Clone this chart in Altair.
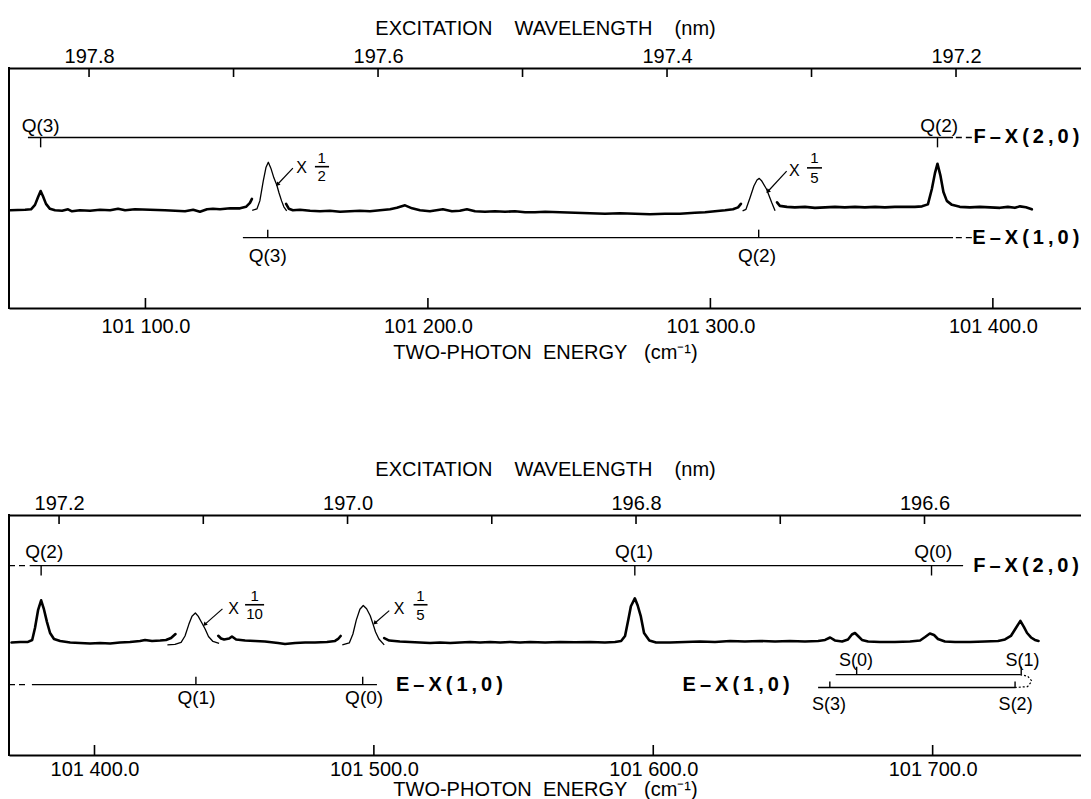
import altair as alt
import pandas as pd

FONT = "Liberation Sans"
W = 1072
H = 238

WL_TITLE = "EXCITATION\u00a0\u00a0\u00a0\u00a0WAVELENGTH\u00a0\u00a0\u00a0\u00a0(nm)"
EN_TITLE = "TWO-PHOTON\u00a0\u00a0ENERGY\u00a0\u00a0\u00a0(cm\u207b\u00b9)"
FX = "F\u2009\u2013\u2009X\u2009(\u20092\u2009,\u20090\u2009)"
EX = "E\u2009\u2013\u2009X\u2009(\u20091\u2009,\u20090\u2009)"

I_DOMAIN = [0, 240]

# ---------------- axes ----------------
TOP_E_DOMAIN = [101051.7, 101431.2]
TOP_L_DOMAIN = [197.8554, 197.1135]
TOP_L_TICKS = [197.8, 197.7, 197.6, 197.5, 197.4, 197.3, 197.2]
TOP_L_LABELS = [197.8, 197.6, 197.4, 197.2]
TOP_E_TICKS = [101100, 101200, 101300, 101400]

BOT_E_DOMAIN = [101369.4, 101753.1]
BOT_L_DOMAIN = [197.2347, 196.4915]
BOT_L_TICKS = [197.2, 197.1, 197.0, 196.9, 196.8, 196.7, 196.6]
BOT_L_LABELS = [197.2, 197.0, 196.8, 196.6]
BOT_E_TICKS = [101400, 101500, 101600, 101700]

# ---------------- top spectrum ----------------
TOP_A_E = [101052.1, 101057.4, 101059.5, 101060.9, 101062.0, 101062.9, 101063.7, 101064.8,
           101066.2, 101068.0, 101070.5, 101072.6, 101074.0, 101076.8, 101080.4, 101083.9,
           101087.5, 101090.3, 101092.8, 101096.3, 101101.6, 101106.9, 101110.5, 101114.0,
           101116.9, 101119.3, 101121.8, 101123.9, 101126.4, 101130.0, 101133.5, 101135.6,
           101137.0, 101137.7]
TOP_A_I = [97.5, 98, 98.5, 103, 111, 117, 112, 104,
           99, 97.5, 97, 98.5, 96.5, 97.5, 97, 98,
           97.5, 99, 97.5, 98.5, 98, 97.5, 97, 96.5,
           98, 96, 98.5, 99, 98.5, 99.5, 99.5, 101,
           105, 109]
TOP_B_E = [101137.8, 101139.5, 101140.5, 101141.7, 101142.7, 101143.5, 101144.4, 101145.5,
           101146.5, 101147.3, 101148.2, 101149.0, 101150.0]
TOP_B_I = [97.5, 99, 107, 127, 141, 146, 140, 130, 123, 115, 107, 101, 97]
TOP_C_E = [101149.8, 101150.8, 101152.2, 101154.7, 101158.3, 101161.8, 101165.3, 101168.9,
           101172.4, 101175.9, 101179.5, 101183.0, 101186.6, 101189.0, 101191.9, 101194.4,
           101197.2, 101200.7, 101205.3, 101208.5, 101211.3, 101213.8, 101216.7, 101220.2,
           101223.7, 101227.3, 101230.8, 101234.4, 101237.9, 101241.5, 101246.8, 101252.1,
           101257.4, 101262.7, 101268.0, 101273.3, 101278.6, 101283.9, 101289.2, 101294.5,
           101298.1, 101301.6, 101305.2, 101308.0, 101309.8, 101310.8]
TOP_C_I = [104, 99, 97.5, 98, 97, 96.5, 97, 96,
           96.5, 97, 96.5, 97.5, 98.5, 100, 102.5, 99.5,
           97.5, 96.5, 98.5, 96.5, 97, 98.5, 96.5, 96,
           96.5, 96, 96.5, 95.5, 95.5, 96, 95.5, 95,
           94.5, 94, 94.5, 94, 93.5, 94, 94, 95,
           95.5, 96.5, 97.5, 98.5, 100.5, 104]
TOP_D_E = [101311.4, 101312.6, 101314.0, 101315.4, 101316.5, 101317.3, 101318.2, 101319.9,
           101321.7, 101322.9]
TOP_D_I = [97, 98.5, 110, 122, 128, 129.7, 127, 118.7, 105.3, 97]
TOP_F_E = [101323.6, 101324.6, 101327.1, 101329.9, 101333.5, 101337.0, 101340.6, 101344.1,
           101347.6, 101351.2, 101354.7, 101358.3, 101361.8, 101365.3, 101368.9, 101372.4,
           101374.9, 101377.0, 101378.4, 101379.5, 101380.4, 101381.4, 101382.5, 101383.7,
           101385.5, 101388.3, 101391.9, 101395.4, 101399.0, 101402.5, 101405.3, 101407.8,
           101409.6, 101411.7, 101413.8]
TOP_F_I = [105.5, 102, 101, 100.5, 101, 100, 100.5, 101,
           100.5, 101, 100.5, 101, 100.5, 101, 101, 101,
           101.5, 103.5, 119, 135, 144.5, 133, 116, 107,
           103, 101, 100.5, 101, 100.5, 100, 101, 100,
           101.5, 100.5, 98.5]

# ---------------- bottom spectrum ----------------
BOT_A_E = [101370.3, 101373.4, 101376.2, 101377.7, 101378.7, 101379.8, 101380.9, 101381.9,
           101383.0, 101384.1, 101385.5, 101387.7, 101391.3, 101394.8, 101398.4, 101402.0,
           101405.6, 101409.1, 101412.7, 101416.3, 101418.1, 101420.6, 101423.5, 101425.6,
           101427.4, 101429.0]
BOT_A_I = [112.5, 113, 113, 115, 127, 145, 155, 146,
           133, 122, 116, 114, 112.5, 112, 111.5, 112,
           111.5, 112.5, 113, 114, 115, 114, 114.5, 115,
           117, 121]
BOT_B_E = [101426.1, 101428.8, 101431.0, 101432.4, 101433.8, 101434.9, 101436.1, 101437.1,
           101438.4, 101439.6, 101440.8, 101442.4, 101444.6]
BOT_B_I = [110, 110.5, 112.5, 119, 131, 139, 142.2, 139, 132.4, 126, 118.5, 113.5, 111.5]
BOT_C_E = [101444.3, 101445.3, 101446.4, 101448.2, 101449.2, 101450.7, 101453.9, 101457.5,
           101461.0, 101465.7, 101468.2, 101471.8, 101475.4, 101478.9, 101483.2, 101486.1,
           101487.2, 101488.1]
BOT_C_I = [119.2, 116.5, 115.5, 116.5, 118.5, 115.5, 114.5, 114,
           113.5, 112, 111, 112, 112.5, 112.5, 113, 114,
           116, 119]
BOT_D_E = [101488.7, 101491.2, 101492.5, 101493.7, 101495.0, 101496.2, 101497.4, 101498.7,
           101499.7, 101500.6, 101501.8, 101503.7]
BOT_D_I = [110, 112, 121, 135, 146, 149.8, 146.5, 139.4, 131, 123, 116, 110]
BOT_F_E = [101503.7, 101505.5, 101509.3, 101512.9, 101516.5, 101520.1, 101523.7, 101527.3,
           101530.8, 101534.4, 101538.0, 101541.6, 101545.2, 101548.7, 101552.3, 101555.9,
           101561.3, 101566.6, 101572.0, 101577.4, 101582.7, 101586.3, 101588.5, 101589.9,
           101591.1, 101592.0, 101593.4, 101594.4, 101595.5, 101596.7, 101598.6, 101601.0,
           101606.0, 101611.4, 101616.7, 101622.1, 101627.5, 101632.8, 101638.2, 101643.6,
           101648.9, 101654.3, 101659.0, 101661.5, 101663.3, 101665.0, 101667.6, 101669.7,
           101671.1, 101672.2, 101673.3, 101674.7, 101676.9, 101681.1, 101686.5, 101691.9,
           101695.5, 101697.3, 101699.0, 101700.5, 101701.9, 101704.4, 101708.0, 101713.4,
           101718.7, 101723.4, 101725.9, 101728.0, 101729.8, 101731.4, 101732.7, 101733.8,
           101735.2, 101736.6, 101737.9]
BOT_F_I = [116.8, 114.4, 113.5, 113, 112.5, 112, 112.5, 112,
           112.5, 113, 112.5, 113, 112.5, 113, 112.5, 113,
           112.5, 113, 112.7, 113, 112.5, 113, 114, 119,
           136, 149, 157, 150, 139.4, 122, 114.5, 112.5,
           112.5, 113, 113.5, 113, 114, 113.5, 114, 113.5,
           114, 113.5, 114, 115, 117.5, 114.5, 113.5, 115.5,
           120.5, 122, 119, 115, 113.5, 113, 113, 113.5,
           114.5, 118, 121.5, 120, 116, 113.5, 113, 113,
           113.5, 114, 115.5, 119, 127, 134.2, 128, 122,
           117.5, 115, 114]

# ---------------- top annotations ----------------
TOP_LEV_E1 = [101058.4, 101134.5]
TOP_LEV_E2 = [101385.9, 101385.9]
TOP_LEV_I = [171, 70]
TOP_DASH_E1 = [101386.9, 101386.9]
TOP_DASH_E2 = [101392.6, 101392.6]
TOP_DASH_I = [171, 70]
TOP_BANDR_T = [FX, EX]
TOP_BANDR_E = [101430.6, 101430.6]
TOP_BANDR_I = [171, 70]
TOP_TICK_E = [101062.9, 101380.4, 101143.3, 101317.1]
TOP_TICK_I1 = [171, 171, 70, 70]
TOP_TICK_I2 = [161, 161, 78, 78]
TOP_LAB_T = ["Q(3)", "Q(2)", "Q(3)", "Q(2)"]
TOP_LAB_E = [101062.9, 101381.0, 101143.3, 101316.5]
TOP_LAB_I = [183, 183, 51, 51]
TOP_X_E = [101155.3, 101329.7]
TOP_X_I = [140, 137]
TOP_FR_T = ["1", "2", "1", "5"]
TOP_FR_E = [101162.4, 101162.4, 101336.8, 101336.8]
TOP_FR_I = [150.5, 132.5, 150.5, 130]
TOP_BAR_E1 = [101160.0, 101334.2]
TOP_BAR_E2 = [101165.0, 101339.5]
TOP_BAR_I = [141.5, 140.3]
TOP_ARR_E1 = [101146.9, 101320.5]
TOP_ARR_I1 = [124, 117]
TOP_ARR_E2 = [101152.2, 101327.0]
TOP_ARR_I2 = [140, 137]

# ---------------- bottom annotations ----------------
BOT_LEV_E1 = [101376.8, 101377.6, 101665.3, 101659.0]
BOT_LEV_E2 = [101710.9, 101501.1, 101731.3, 101729.5]
BOT_LEV_I = [190, 70, 80, 67]
BOT_DASH_E1 = [101369.4, 101369.4]
BOT_DASH_E2 = [101376.2, 101376.2]
BOT_DASH_I = [190, 70]
BOT_BANDR_T = [FX]
BOT_BANDR_E = [101752.4]
BOT_BANDR_I = [190]
BOT_BANDL_T = [EX, EX]
BOT_BANDL_E = [101507.9, 101610.5]
BOT_BANDL_I = [70, 70]
BOT_TICK_E = [101380.9, 101593.4, 101699.6, 101436.3, 101496.0,
              101672.8, 101731.7, 101663.2, 101729.5]
BOT_TICK_I1 = [190, 190, 190, 70, 70, 80, 80, 67, 67]
BOT_TICK_I2 = [180, 180, 180, 78, 78, 88, 88, 73, 73]
BOT_LAB_T = ["Q(2)", "Q(1)", "Q(0)", "Q(1)", "Q(0)"]
BOT_LAB_E = [101382.0, 101593.1, 101700.2, 101436.5, 101496.5]
BOT_LAB_I = [204, 204, 204, 56, 56]
BOT_S_T = ["S(0)", "S(1)", "S(3)", "S(2)"]
BOT_S_E = [101672.6, 101732.2, 101662.9, 101729.7]
BOT_S_I = [94, 94, 49, 49]
BOT_X_E = [101449.8, 101509.0]
BOT_X_I = [146.3, 146.3]
BOT_FR_T = ["1", "10", "1", "5"]
BOT_FR_E = [101457.3, 101457.3, 101516.7, 101516.7]
BOT_FR_I = [159, 141.5, 159, 140]
BOT_BAR_E1 = [101453.9, 101514.2]
BOT_BAR_E2 = [101460.7, 101519.2]
BOT_BAR_I = [150.5, 150.5]
BOT_ARR_E1 = [101439.6, 101500.5]
BOT_ARR_I1 = [131, 132.4]
BOT_ARR_E2 = [101445.8, 101505.5]
BOT_ARR_I2 = [146.3, 144.6]
BOT_LOOP_E = [101731.3, 101734.0, 101735.5, 101734.0, 101729.5]
BOT_LOOP_I = [80, 78.5, 73.5, 68, 67]


def seg_frame(segs):
    rows = []
    for sid, (es, vs) in enumerate(segs):
        for k, (e, v) in enumerate(zip(es, vs)):
            rows.append({"E": e, "I": v, "seg": sid, "k": k})
    return pd.DataFrame(rows)


ONE = pd.DataFrame({"d": [0]})


def panel(p):
    xs = alt.Scale(domain=p["edom"], nice=False, zero=False)
    ls = alt.Scale(domain=p["ldom"], nice=False, zero=False)
    ys = alt.Scale(domain=I_DOMAIN, nice=False, zero=False)

    def xE(f="E"):
        return alt.X(f + ":Q", scale=xs, axis=None)

    def yI(f="I"):
        return alt.Y(f + ":Q", scale=ys, axis=None)

    def text(cols, size, weight="normal", align="center"):
        df = pd.DataFrame({"t": cols[0], "E": cols[1], "I": cols[2]})
        return alt.Chart(df).mark_text(font=FONT, fontSize=size, fontWeight=weight,
                                       align=align, baseline="middle", color="black").encode(
            x=xE(), y=yI(), text="t:N")

    layers = []
    # left frame
    layers.append(alt.Chart(ONE).mark_rule(color="black", strokeWidth=2).encode(
        x=alt.value(0), y=alt.value(-2), y2=alt.value(H + 2)))
    layers.append(alt.Chart(seg_frame(p["thick"])).mark_line(
        color="black", strokeWidth=2.6, strokeJoin="round", strokeCap="round").encode(
        x=xE(), y=yI(), detail="seg:N", order="k:Q"))
    layers.append(alt.Chart(seg_frame(p["thin"])).mark_line(
        color="black", strokeWidth=1.3, strokeJoin="round").encode(
        x=xE(), y=yI(), detail="seg:N", order="k:Q"))
    lev = pd.DataFrame({"E1": p["lev"][0], "E2": p["lev"][1], "I": p["lev"][2]})
    layers.append(alt.Chart(lev).mark_rule(color="black", strokeWidth=1.4).encode(
        x=xE("E1"), x2=alt.X2("E2"), y=yI()))
    dash = pd.DataFrame({"E1": p["dash"][0], "E2": p["dash"][1], "I": p["dash"][2]})
    layers.append(alt.Chart(dash).mark_rule(color="black", strokeWidth=1.4,
                                            strokeDash=[6, 4]).encode(
        x=xE("E1"), x2=alt.X2("E2"), y=yI()))
    ticks = pd.DataFrame({"E": p["ticks"][0], "I1": p["ticks"][1], "I2": p["ticks"][2]})
    layers.append(alt.Chart(ticks).mark_rule(color="black", strokeWidth=1.4).encode(
        x=xE(), y=yI("I1"), y2=alt.Y2("I2")))
    bars = pd.DataFrame({"E1": p["bars"][0], "E2": p["bars"][1], "I": p["bars"][2]})
    layers.append(alt.Chart(bars).mark_rule(color="black", strokeWidth=1.6).encode(
        x=xE("E1"), x2=alt.X2("E2"), y=yI()))
    arr = pd.DataFrame({"E1": p["arr"][0], "I1": p["arr"][1],
                        "E2": p["arr"][2], "I2": p["arr"][3]})
    layers.append(alt.Chart(arr).mark_rule(color="black", strokeWidth=1.2).encode(
        x=xE("E1"), x2=alt.X2("E2"), y=yI("I1"), y2=alt.Y2("I2")))
    layers.append(alt.Chart(arr).mark_point(shape="triangle", filled=True, size=22, angle=225,
                                            color="black", opacity=1).encode(
        x=xE("E1"), y=yI("I1")))
    if "loop" in p:
        loop = pd.DataFrame({"E": p["loop"][0], "I": p["loop"][1],
                             "k": list(range(len(p["loop"][0])))})
        layers.append(alt.Chart(loop).mark_line(color="black", strokeWidth=1.2,
                                                strokeDash=[2, 2]).encode(
            x=xE(), y=yI(), order="k:Q"))
    layers.append(text(p["bandr"], 20, "bold", "right"))
    if "bandl" in p:
        layers.append(text(p["bandl"], 20, "bold", "left"))
    layers.append(text(p["lab"], 19))
    if "slab" in p:
        layers.append(text(p["slab"], 18))
    layers.append(text((["X"] * len(p["x"][0]), p["x"][0], p["x"][1]), 16))
    layers.append(text(p["fr"], 15))
    body = alt.layer(*layers).properties(width=W, height=H)

    # wavelength strip (top frame) with inward ticks
    strip_top = alt.Chart(pd.DataFrame({"L": p["lticks"]})).mark_rule(
        color="black", strokeWidth=1.6).encode(
        x=alt.X("L:Q", scale=ls, axis=alt.Axis(
            orient="top", values=p["llabels"], format=".1f",
            ticks=False, domain=True, grid=False, title=WL_TITLE, labelFlush=False,
            labelPadding=p["tlp"], titlePadding=p["ttp"])),
        y=alt.value(0), y2=alt.value(9)).properties(width=W, height=1)

    # energy strip (bottom frame) with inward ticks
    strip_bot = alt.Chart(pd.DataFrame({"E": p["eticks"]})).mark_rule(
        color="black", strokeWidth=1.6).encode(
        x=alt.X("E:Q", scale=xs, axis=alt.Axis(
            orient="bottom", values=p["eticks"],
            labelExpr="'101 ' + format(datum.value - 101000, '.1f')",
            ticks=False, domain=True, grid=False, title=EN_TITLE, labelFlush=False,
            labelPadding=p["blp"], titlePadding=p["btp"])),
        y=alt.value(1), y2=alt.value(-9)).properties(width=W, height=1)

    return alt.vconcat(strip_top, body, strip_bot, spacing=0,
                       bounds="flush").resolve_scale(x="independent")


top = panel({
    "edom": TOP_E_DOMAIN, "ldom": TOP_L_DOMAIN,
    "eticks": TOP_E_TICKS, "lticks": TOP_L_TICKS, "llabels": TOP_L_LABELS,
    "thick": [(TOP_A_E, TOP_A_I), (TOP_C_E, TOP_C_I), (TOP_F_E, TOP_F_I)],
    "thin": [(TOP_B_E, TOP_B_I), (TOP_D_E, TOP_D_I)],
    "lev": (TOP_LEV_E1, TOP_LEV_E2, TOP_LEV_I),
    "dash": (TOP_DASH_E1, TOP_DASH_E2, TOP_DASH_I),
    "bandr": (TOP_BANDR_T, TOP_BANDR_E, TOP_BANDR_I),
    "ticks": (TOP_TICK_E, TOP_TICK_I1, TOP_TICK_I2),
    "lab": (TOP_LAB_T, TOP_LAB_E, TOP_LAB_I),
    "x": (TOP_X_E, TOP_X_I),
    "fr": (TOP_FR_T, TOP_FR_E, TOP_FR_I),
    "bars": (TOP_BAR_E1, TOP_BAR_E2, TOP_BAR_I),
    "arr": (TOP_ARR_E1, TOP_ARR_I1, TOP_ARR_E2, TOP_ARR_I2),
    "blp": 8, "btp": 6, "tlp": 2, "ttp": 8,
})

bot = panel({
    "edom": BOT_E_DOMAIN, "ldom": BOT_L_DOMAIN,
    "eticks": BOT_E_TICKS, "lticks": BOT_L_TICKS, "llabels": BOT_L_LABELS,
    "thick": [(BOT_A_E, BOT_A_I), (BOT_C_E, BOT_C_I), (BOT_F_E, BOT_F_I)],
    "thin": [(BOT_B_E, BOT_B_I), (BOT_D_E, BOT_D_I)],
    "lev": (BOT_LEV_E1, BOT_LEV_E2, BOT_LEV_I),
    "dash": (BOT_DASH_E1, BOT_DASH_E2, BOT_DASH_I),
    "bandr": (BOT_BANDR_T, BOT_BANDR_E, BOT_BANDR_I),
    "bandl": (BOT_BANDL_T, BOT_BANDL_E, BOT_BANDL_I),
    "ticks": (BOT_TICK_E, BOT_TICK_I1, BOT_TICK_I2),
    "lab": (BOT_LAB_T, BOT_LAB_E, BOT_LAB_I),
    "slab": (BOT_S_T, BOT_S_E, BOT_S_I),
    "x": (BOT_X_E, BOT_X_I),
    "fr": (BOT_FR_T, BOT_FR_E, BOT_FR_I),
    "bars": (BOT_BAR_E1, BOT_BAR_E2, BOT_BAR_I),
    "arr": (BOT_ARR_E1, BOT_ARR_I1, BOT_ARR_E2, BOT_ARR_I2),
    "loop": (BOT_LOOP_E, BOT_LOOP_I),
    "blp": 4, "btp": 0, "tlp": 2, "ttp": 14,
})

chart = alt.vconcat(top, bot, spacing=97).resolve_scale(
    x="independent", y="independent"
).configure_view(stroke=None).configure_axis(
    labelFont=FONT, labelFontSize=20, labelColor="black",
    titleFont=FONT, titleFontSize=20, titleFontWeight="normal", titleColor="black",
    domainColor="black", domainWidth=2,
).properties(padding={"left": 0, "top": 10, "right": 0, "bottom": 0})

chart.save("out.html", embed_options={"renderer": "svg", "actions": False})
